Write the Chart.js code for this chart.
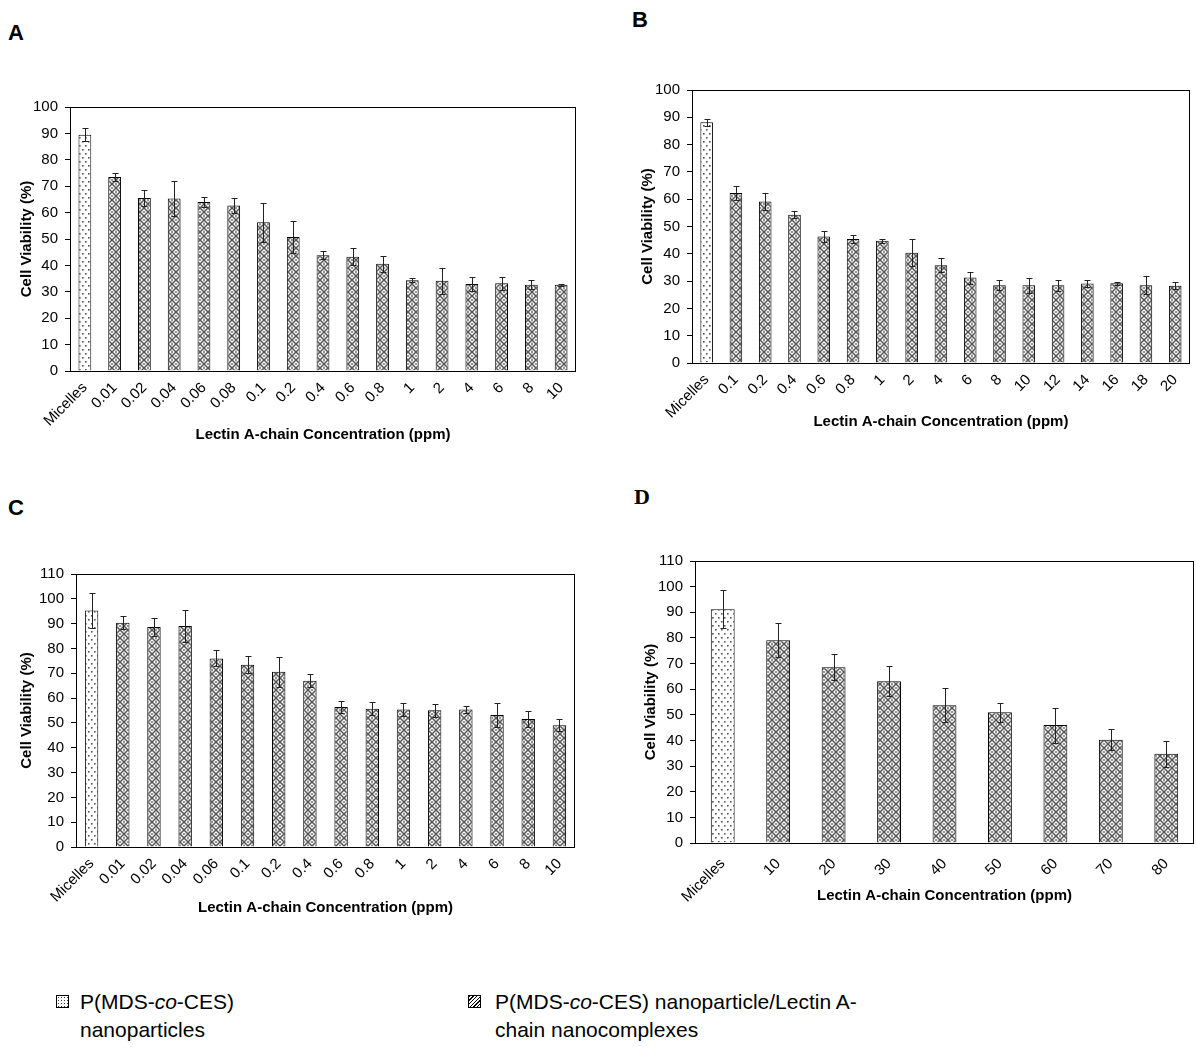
<!DOCTYPE html>
<html>
<head>
<meta charset="utf-8">
<script src="https://cdn.jsdelivr.net/npm/chart.js@4.4.1/dist/chart.umd.min.js"></script>
<style>
  html, body { margin: 0; padding: 0; background: #fff; }
  body { width: 1196px; height: 1047px; position: relative; overflow: hidden; font-family: 'Liberation Sans', Arial, sans-serif; color: #000; }
  .panel { position: absolute; }
  .plabel { position: absolute; font-weight: bold; font-size: 22px; line-height: 1; }
  .plabel.serif { font-family: 'Liberation Serif', 'Times New Roman', serif; }
  .leg { position: absolute; font-size: 21px; line-height: 28px; }
  .lbox { position: absolute; width: 13px; height: 13px; border: 1px solid #000; box-sizing: border-box; }
  .dots { background-color: #fff; background-image: radial-gradient(circle, #333 0.7px, transparent 0.9px); background-size: 3px 3px; }
  .hatch { background: repeating-linear-gradient(135deg, #000 0 1px, #fff 1px 2.6px); }
</style>
</head>
<body>
<div class="plabel" style="left:8px;top:22px">A</div>
<div class="plabel" style="left:632px;top:9px">B</div>
<div class="plabel" style="left:8px;top:497px">C</div>
<div class="plabel serif" style="left:634px;top:486px">D</div>

<div class="panel" style="left:0px;top:80px;"><canvas id="cA" width="595" height="380"></canvas></div>
<div class="panel" style="left:600px;top:60px;"><canvas id="cB" width="596" height="380"></canvas></div>
<div class="panel" style="left:0px;top:550px;"><canvas id="cC" width="595" height="380"></canvas></div>
<div class="panel" style="left:600px;top:540px;"><canvas id="cD" width="596" height="380"></canvas></div>

<div class="lbox dots" style="left:56px;top:995px"></div>
<div class="leg" style="left:80px;top:988px">P(MDS-<i>co</i>-CES)<br>nanoparticles</div>
<div class="lbox hatch" style="left:468px;top:995px"></div>
<div class="leg" style="left:495px;top:988px">P(MDS-<i>co</i>-CES) nanoparticle/Lectin A-<br>chain nanocomplexes</div>

<script>
// ---------- DATA ----------
const labelsA = ['Micelles','0.01','0.02','0.04','0.06','0.08','0.1','0.2','0.4','0.6','0.8','1','2','4','6','8','10'];
const valuesA = [89.5, 73.5, 65.5, 65.3, 64.0, 62.7, 56.3, 50.8, 43.8, 43.3, 40.6, 34.4, 34.2, 33.0, 33.2, 32.7, 32.7];
const errorsA = [2.5, 1.5, 3.0, 6.5, 2.0, 2.7, 7.5, 6.0, 1.5, 3.2, 3.0, 0.8, 5.0, 2.7, 2.4, 1.7, 0.4];

const labelsB = ['Micelles','0.1','0.2','0.4','0.6','0.8','1','2','4','6','8','10','12','14','16','18','20'];
const valuesB = [88.2, 62.3, 59.2, 54.3, 46.3, 45.4, 44.8, 40.4, 35.8, 31.3, 28.5, 28.5, 28.5, 29.1, 29.2, 28.5, 28.3];
const errorsB = [1.3, 2.5, 3.0, 1.2, 2.0, 1.5, 0.8, 5.0, 2.5, 2.2, 1.8, 2.8, 2.0, 1.3, 0.5, 3.2, 1.2];

const labelsC = ['Micelles','0.01','0.02','0.04','0.06','0.1','0.2','0.4','0.6','0.8','1','2','4','6','8','10'];
const valuesC = [95.3, 90.4, 88.6, 89.0, 76.0, 73.4, 70.6, 67.0, 56.4, 55.7, 55.4, 55.1, 55.4, 53.2, 51.6, 49.1];
const errorsC = [7.0, 2.5, 3.5, 6.3, 3.2, 3.4, 6.0, 2.7, 2.4, 2.7, 2.6, 2.7, 1.6, 5.0, 3.4, 2.3];

const labelsD = ['Micelles','10','20','30','40','50','60','70','80'];
const valuesD = [91.2, 79.1, 68.6, 63.1, 53.7, 51.0, 46.0, 40.3, 34.8];
const errorsD = [7.5, 6.7, 5.2, 5.9, 6.6, 3.8, 6.8, 4.0, 5.0];

const yMaxA = 100, yMaxB = 100, yMaxC = 110, yMaxD = 110;
const xTitle = 'Lectin A-chain Concentration (ppm)';
const yTitle = 'Cell Viability (%)';

// ---------- PATTERNS ----------
function makeDotPattern(ctx) {
  const t = document.createElement('canvas');
  t.width = 6; t.height = 8;
  const g = t.getContext('2d');
  g.fillStyle = '#fff'; g.fillRect(0, 0, 6, 8);
  g.fillStyle = '#555';
  g.fillRect(1, 1, 1.6, 1.6);
  g.fillRect(4, 5, 1.6, 1.6);
  return ctx.createPattern(t, 'repeat');
}
function makeHatchPattern(ctx) {
  const t = document.createElement('canvas');
  t.width = 8; t.height = 8;
  const g = t.getContext('2d');
  g.fillStyle = '#fff'; g.fillRect(0, 0, 8, 8);
  g.strokeStyle = '#555'; g.lineWidth = 1.5;
  g.beginPath();
  g.moveTo(-1, 9); g.lineTo(9, -1);
  g.moveTo(-1, -1); g.lineTo(9, 9);
  g.stroke();
  g.fillStyle = '#666';
  g.fillRect(3.3, 0, 1.4, 1.4);
  g.fillRect(3.3, 6.6, 1.4, 1.4);
  g.fillRect(0, 3.3, 1.2, 1.4);
  g.fillRect(6.8, 3.3, 1.2, 1.4);
  return ctx.createPattern(t, 'repeat');
}

// ---------- PLUGINS ----------
const boxPlugin = {
  id: 'plotBox',
  afterDatasetsDraw(chart) {
    const { ctx, chartArea: a } = chart;
    ctx.save();
    ctx.strokeStyle = '#000';
    ctx.lineWidth = 1;
    ctx.strokeRect(Math.round(a.left) + 0.5, Math.round(a.top) + 0.5,
                   Math.round(a.right - a.left) - 1, Math.round(a.bottom - a.top));
    ctx.restore();
  }
};
const errorBarPlugin = {
  id: 'errorBars',
  afterDatasetsDraw(chart, args, opts) {
    const { ctx } = chart;
    const yScale = chart.scales.y;
    const ds = chart.data.datasets[0];
    const meta = chart.getDatasetMeta(0);
    const errs = opts.errors || [];
    ctx.save();
    ctx.strokeStyle = '#222';
    ctx.lineWidth = 1;
    meta.data.forEach((bar, i) => {
      const v = ds.data[i], e = errs[i];
      if (e == null) return;
      const x = Math.round(bar.x) + 0.5;
      const yTop = Math.round(yScale.getPixelForValue(v + e)) + 0.5;
      const yBot = Math.round(yScale.getPixelForValue(v - e)) + 0.5;
      const cap = 3;
      ctx.beginPath();
      ctx.moveTo(x, yTop); ctx.lineTo(x, yBot);
      ctx.moveTo(x - cap, yTop); ctx.lineTo(x + cap, yTop);
      ctx.moveTo(x - cap, yBot); ctx.lineTo(x + cap, yBot);
      ctx.stroke();
    });
    ctx.restore();
  }
};

// ---------- CHART FACTORY ----------
function makeChart(id, box, area, labels, values, errors, yMax, titleYx, titleXy, xPad) {
  const canvas = document.getElementById(id);
  const ctx = canvas.getContext('2d');
  const dot = makeDotPattern(ctx);
  const hatch = makeHatchPattern(ctx);
  const bg = labels.map((l, i) => i === 0 ? dot : hatch);
  const fontFamily = "'Liberation Sans', Arial, sans-serif";
  const yAxisW = area.L - box.x;
  const xAxisH = box.y + box.h - area.B;
  const lh = 15 * 1.2;
  return new Chart(ctx, {
    type: 'bar',
    data: {
      labels: labels,
      datasets: [{
        data: values,
        backgroundColor: bg,
        borderColor: '#000',
        borderWidth: 1,
        barPercentage: 0.43,
        categoryPercentage: 1.0
      }]
    },
    options: {
      responsive: false,
      animation: false,
      events: [],
      layout: { padding: { left: 0, top: area.T - box.y, right: box.x + box.w - area.R, bottom: 0 } },
      plugins: {
        legend: { display: false },
        tooltip: { enabled: false },
        errorBars: { errors: errors }
      },
      scales: {
        x: {
          offset: true,
          grid: { display: false, drawTicks: false },
          border: { display: false },
          ticks: {
            autoSkip: false, maxRotation: 45, minRotation: 45, padding: xPad,
            color: '#000', font: { family: fontFamily, size: 15 }
          },
          title: {
            display: true, text: xTitle, color: '#000',
            font: { family: fontFamily, size: 15, weight: 'bold' },
            padding: { top: 0, bottom: (box.y + box.h) - titleXy - lh / 2 }
          },
          afterFit(scale) { scale.height = xAxisH; }
        },
        y: {
          min: 0, max: yMax,
          grid: { drawOnChartArea: false, drawTicks: true, tickLength: 5, color: '#000' },
          border: { display: false },
          ticks: {
            stepSize: 10, padding: 7, color: '#000',
            font: { family: fontFamily, size: 15 }
          },
          title: {
            display: true, text: yTitle, color: '#000',
            font: { family: fontFamily, size: 15, weight: 'bold' },
            padding: { top: titleYx - box.x - lh / 2, bottom: 0 }
          },
          afterFit(scale) { scale.width = yAxisW; }
        }
      }
    },
    plugins: [boxPlugin, errorBarPlugin]
  });
}

makeChart('cA', { x: 0, y: 80, w: 595, h: 380 }, { L: 70, T: 107, R: 576, B: 371 }, labelsA, valuesA, errorsA, yMaxA, 27, 435, 8);
makeChart('cB', { x: 600, y: 60, w: 596, h: 380 }, { L: 692, T: 90, R: 1194, B: 363 }, labelsB, valuesB, errorsB, yMaxB, 648, 422, 8);
makeChart('cC', { x: 0, y: 550, w: 595, h: 380 }, { L: 76, T: 574, R: 575, B: 847 }, labelsC, valuesC, errorsC, yMaxC, 27, 908, 8);
makeChart('cD', { x: 600, y: 540, w: 596, h: 380 }, { L: 695, T: 561, R: 1194, B: 843 }, labelsD, valuesD, errorsD, yMaxD, 651, 896, 12);
</script>
</body>
</html>
